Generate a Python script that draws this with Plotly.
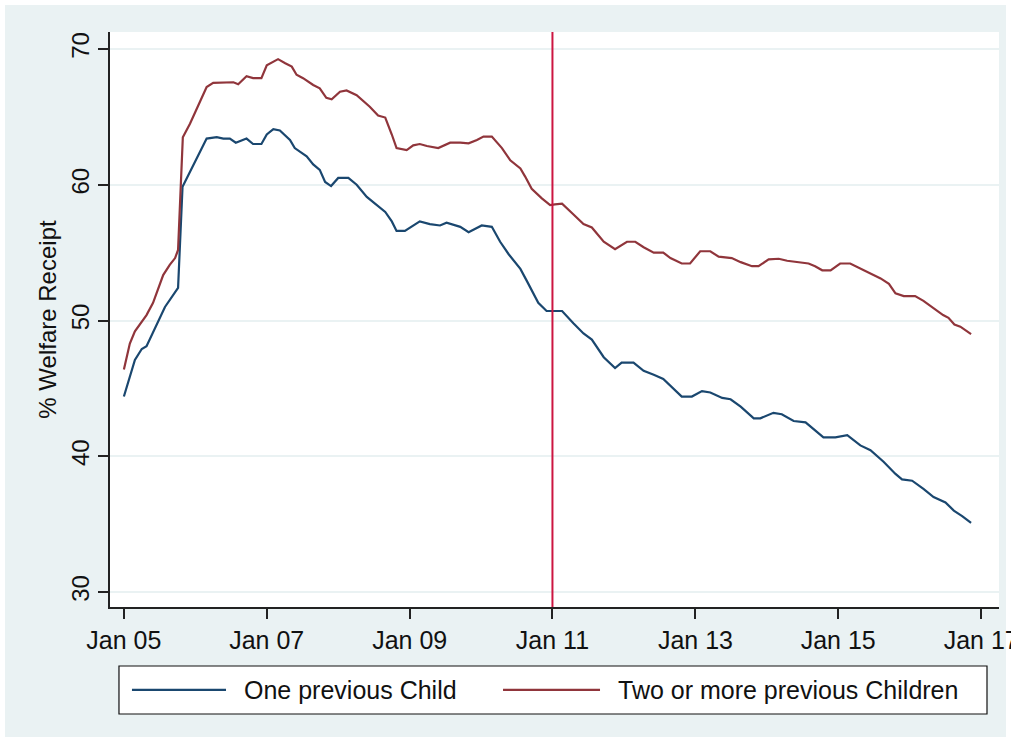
import pandas as pd
import plotly.graph_objects as go

# months since Jan 2005
one_child_months = [0, 1.85, 3.0, 3.8, 6.9, 7.7, 9.1, 9.85, 11.9, 13.9, 15.6, 16.7, 17.8, 18.8, 20.6,
                    21.7, 23.1, 24.0, 25.1, 26.2, 27.9, 28.7, 30.7, 31.8, 32.9, 33.8, 34.8, 36.0, 37.7,
                    39.1, 40.8, 42.2, 43.9, 45.0, 45.8, 47.2, 48.6, 49.7, 51.4, 53.1, 54.2, 56.5, 57.9,
                    60.1, 61.8, 63.2, 64.6, 66.6, 67.7, 69.6, 71.0, 73.6, 75.5, 77.2, 78.6, 80.6, 82.5,
                    83.6, 85.6, 87.3, 89.0, 90.6, 93.7, 95.4, 97.1, 98.5, 100.5, 101.9, 103.6, 105.8,
                    106.9, 109.1, 110.5, 112.5, 114.5, 115.8, 117.5, 119.5, 121.5, 123.7, 125.4, 127.6,
                    129.6, 130.7, 132.4, 134.3, 136.0, 138.0, 139.4, 140.8, 142.3]
one_child = [44.4, 47.1, 47.9, 48.1, 51.0, 51.5, 52.4, 59.85, 61.6, 63.4, 63.5, 63.4, 63.4, 63.1, 63.4,
             63.0, 63.0, 63.7, 64.1, 64.0, 63.3, 62.7, 62.1, 61.5, 61.1, 60.2, 59.9, 60.5, 60.5,
             60.0, 59.1, 58.6, 58.0, 57.3, 56.6, 56.6, 57.0, 57.3, 57.1, 57.0, 57.2, 56.9, 56.5,
             57.0, 56.9, 55.8, 54.9, 53.8, 52.9, 51.3, 50.7, 50.7, 49.8, 49.05, 48.6, 47.3, 46.5,
             46.9, 46.9, 46.3, 46.0, 45.7, 44.4, 44.4, 44.8, 44.7, 44.3, 44.2, 43.65, 42.8,
             42.8, 43.2, 43.1, 42.6, 42.5, 42.05, 41.4, 41.4, 41.55, 40.8, 40.45, 39.6,
             38.7, 38.3, 38.2, 37.6, 37.0, 36.6, 36.0, 35.6, 35.1]

two_plus_months = [0, 1.0, 1.85, 3.0, 3.8, 4.9, 6.6, 7.7, 8.6, 9.1, 9.5, 9.9, 11.1, 12.8, 13.9, 15.0,
                   17.3, 18.4, 19.2, 20.6, 21.7, 23.1, 24.0, 25.9, 27.1, 28.2, 29.0, 30.1, 31.8, 32.9,
                   34.0, 34.9, 36.3, 37.4, 39.1, 41.3, 42.7, 43.9, 45.0, 45.8, 47.5, 48.6, 49.7, 50.9,
                   52.8, 54.8, 56.5, 57.9, 59.3, 60.4, 61.8, 63.5, 64.9, 66.6, 67.4, 68.5, 70.2, 71.6,
                   72.4, 73.6, 75.3, 77.2, 78.6, 80.6, 82.5, 84.5, 85.9, 87.3, 89.0, 90.6, 91.8, 93.7,
                   95.1, 96.8, 98.5, 99.9, 102.1, 103.6, 105.5, 106.6, 108.3, 110.0, 111.4, 113.1,
                   115.0, 116.1, 117.3, 118.7, 120.3, 122.0, 124.3, 127.1, 128.5, 129.6, 131.0, 132.9,
                   134.3, 136.0, 137.6, 138.5, 139.5, 140.5, 142.3]
two_plus = [46.4, 48.3, 49.2, 49.9, 50.4, 51.3, 53.35, 54.1, 54.6, 55.2, 59.4, 63.5, 64.5, 66.2, 67.2, 67.5,
            67.5, 67.55, 67.4, 68.0, 67.85, 67.85, 68.8, 69.25, 68.95, 68.7, 68.1, 67.85, 67.35, 67.1,
            66.4, 66.3, 66.85, 66.95, 66.6, 65.75, 65.1, 64.95, 63.7, 62.7, 62.55, 62.9, 63.0, 62.85,
            62.7, 63.1, 63.1, 63.05, 63.3, 63.55, 63.55, 62.7, 61.8, 61.2, 60.6, 59.7, 59.0, 58.5,
            58.55, 58.6, 57.9, 57.1, 56.85, 55.8, 55.25, 55.8, 55.8, 55.4, 55.0, 55.0, 54.6, 54.2,
            54.2, 55.1, 55.1, 54.7, 54.6, 54.3, 54.0, 54.0, 54.5, 54.55, 54.4, 54.3,
            54.2, 54.0, 53.7, 53.7, 54.2, 54.2, 53.7, 53.1, 52.7, 52.0, 51.8, 51.8,
            51.45, 50.9, 50.4, 50.2, 49.7, 49.55, 49.0]

names = ["One previous Child", "Two or more previous Children"]
colors = ["#1a476f", "#90353b"]
cutoff = "2011-01-01"


def to_dates(months):
    start = pd.Timestamp("2005-01-01")
    return [start + pd.to_timedelta(m * 365.25 / 12, unit="D") for m in months]


fig = go.Figure()
fig.add_trace(go.Scatter(x=to_dates(one_child_months), y=one_child, mode="lines",
                         name=names[0], line=dict(color=colors[0], width=2.2), showlegend=False))
fig.add_trace(go.Scatter(x=to_dates(two_plus_months), y=two_plus, mode="lines",
                         name=names[1], line=dict(color=colors[1], width=2.2), showlegend=False))

# vertical reference line
fig.add_shape(type="line", x0=cutoff, x1=cutoff, y0=0, y1=1, xref="x", yref="paper",
              line=dict(color="#cc1541", width=2))

# stata-like legend box under the plot
fig.add_shape(type="rect", xref="paper", yref="paper", x0=0.0101, x1=0.9865, y0=-0.1861, y1=-0.1026,
              line=dict(color="#111", width=1.2), fillcolor="white")
leg_x = [(0.0247, 0.1305, 0.1485), (0.4421, 0.5512, 0.5692)]
for (a, b, t), nm, c in zip(leg_x, names, colors):
    fig.add_shape(type="line", xref="paper", yref="paper", x0=a, x1=b, y0=-0.1443, y1=-0.1443,
                  line=dict(color=c, width=2.2))
    fig.add_annotation(x=t, y=-0.1443, xref="paper", yref="paper", text=nm, showarrow=False,
                       xanchor="left", yanchor="middle", font=dict(size=25, color="#111"))

# thin white frame around the whole graph
fig.add_shape(type="rect", xref="paper", yref="paper", x0=-0.1237, x1=1.0135, y0=-0.2348, y1=1.0557,
              line=dict(color="white", width=10), layer="below")

fig.update_layout(
    width=1011, height=742,
    margin=dict(l=110, r=12, t=32, b=135),
    paper_bgcolor="#eaf2f3",
    plot_bgcolor="white",
    font=dict(family="Liberation Sans, Arial, sans-serif", color="#111"),
    showlegend=False,
)
fig.update_xaxes(
    type="date", range=["2004-10-22", "2017-04-02"],
    tick0="2005-01-01", dtick="M24", tickformat="%b %y",
    showgrid=False, zeroline=False, automargin=False,
    showline=True, linecolor="#222", linewidth=1.5,
    ticks="outside", ticklen=10, tickwidth=1.5, tickcolor="#222",
    tickfont=dict(size=25), ticklabeloverflow="allow",
)
fig.update_yaxes(
    range=[28.9, 71.25], tickvals=[30, 40, 50, 60, 70], tickangle=-90,
    showgrid=True, gridcolor="#eaf2f3", gridwidth=2, zeroline=False, automargin=False,
    showline=True, linecolor="#222", linewidth=1.5,
    ticks="outside", ticklen=10, tickwidth=1.5, tickcolor="#222",
    tickfont=dict(size=24),
    title=dict(text="% Welfare Receipt", font=dict(size=24), standoff=3),
)

fig.write_html("out.html", config={"displayModeBar": False},
               post_script="document.body.style.margin='0';")
